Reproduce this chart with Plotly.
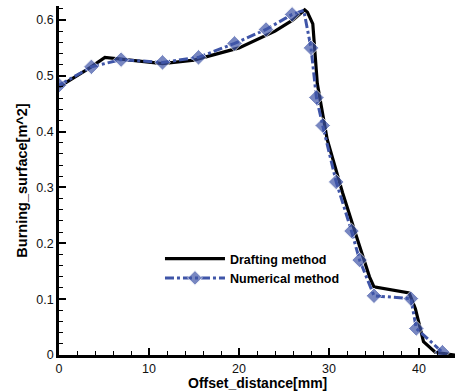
import plotly.graph_objects as go

# Drafting method (black solid line)
draft_x = [0, 3.5, 5.1, 7, 11.5, 15, 20, 24, 26, 27.3, 27.6, 28.2, 28.7, 29.8, 31.5, 33, 34.5, 35, 38.9, 39.6, 40.5, 41.8, 44]
draft_y = [0.48, 0.515, 0.533, 0.53, 0.522, 0.528, 0.55, 0.58, 0.60, 0.618, 0.614, 0.593, 0.486, 0.386, 0.291, 0.215, 0.14, 0.122, 0.111, 0.083, 0.024, 0.005, 0.0]

# Numerical method (blue dash-dot with diamonds)
num_x = [0, 3.6, 6.9, 11.5, 15.5, 19.5, 23, 25.9, 27.2, 28.0, 28.6, 29.3, 30.8, 32.5, 33.4, 35.0, 39.1, 39.7, 42.6]
num_y = [0.483, 0.516, 0.529, 0.524, 0.533, 0.558, 0.583, 0.61, 0.617, 0.55, 0.461, 0.411, 0.31, 0.222, 0.17, 0.106, 0.101, 0.0475, 0.005]
num_marker = [1] * 8 + [0] + [1] * 10

x_title = "Offset_distance[mm]"
y_title = "Burning_surface[m^2]"

blue = "#3F55A8"

fig = go.Figure()
fig.add_trace(go.Scatter(x=draft_x, y=draft_y, mode="lines", name="Drafting method",
                         line=dict(color="black", width=3.2)))
fig.add_trace(go.Scatter(x=num_x, y=num_y, mode="lines+markers", name="Numerical method",
                         line=dict(color=blue, width=3, dash="dashdot"),
                         marker=dict(symbol="diamond", size=[12 if m else 0 for m in num_marker],
                                     color=blue)))

axis_common = dict(showgrid=False, zeroline=False, showline=True, linecolor="black", linewidth=2.5,
                   ticks="inside", ticklen=7, tickwidth=2, tickcolor="black",
                   tickfont=dict(family="Liberation Sans, Arial", size=12.5, color="#111"),
                   mirror=False)

mb = 37
plot_h = 392 - 6 - mb

fig.update_layout(
    width=456, height=392,
    margin=dict(l=59, r=1, t=6, b=mb),
    plot_bgcolor="white", paper_bgcolor="white",
    showlegend=True,
    legend=dict(x=0.255, y=0.318, xanchor="left", yanchor="top", bgcolor="rgba(0,0,0,0)",
                font=dict(family="Liberation Sans, Arial", size=12.5, color="black", weight="bold"),
                itemwidth=60, tracegroupgap=0),
    xaxis=dict(range=[0, 44], dtick=10, tick0=0,
               minor=dict(dtick=2, ticks="inside", ticklen=4, tickwidth=1, tickcolor="black"),
               ticklabelstandoff=0,
               **axis_common),
    yaxis=dict(range=[0, 0.625], dtick=0.1, tick0=0,
               minor=dict(dtick=0.02, ticks="inside", ticklen=4, tickwidth=1, tickcolor="black"),
               title=dict(text="<b>" + y_title + "</b>", standoff=6,
                          font=dict(family="Liberation Sans, Arial", size=14.5, color="black")),
               **axis_common),
    annotations=[dict(text="<b>" + x_title + "</b>", xref="paper", yref="paper",
                      x=0.5, y=-mb / plot_h, xanchor="center", yanchor="bottom",
                      showarrow=False, borderpad=0,
                      font=dict(family="Liberation Sans, Arial", size=14, color="black"))],
)
fig.write_html("out.html")
